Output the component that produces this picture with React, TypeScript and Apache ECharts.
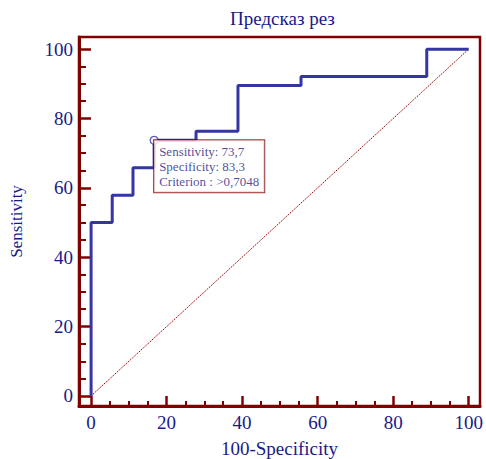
import React, { useEffect, useRef } from "react";
import * as echarts from "echarts";

const fpr = [0, 0, 5.6, 11.1, 16.7, 27.8, 38.9, 55.6, 88.9, 100];
const sens = [0, 50, 57.9, 65.8, 73.7, 76.3, 89.5, 92.1, 100, 100];
const diagX = [0, 100];
const diagY = [0, 100];
const criterionPoint = [16.7, 73.7];
const criterionText = ["Sensitivity: 73,7", "Specificity: 83,3", "Criterion : >0,7048"];
const majorTicks = [0, 20, 40, 60, 80, 100];
const minorTicks = [5, 10, 15, 25, 30, 35, 45, 50, 55, 65, 70, 75, 85, 90, 95];
const title = "Предсказ рез";
const xName = "100-Specificity";
const yName = "Sensitivity";

const RED = "#800000";
const NAVY = "#1a1a88";
const BLUE = "#3535a3";
const FONT = "'Liberation Serif', 'Times New Roman', serif";

export default function App() {
  const ref = useRef<HTMLDivElement>(null);
  useEffect(() => {
    document.body.style.margin = "0";
    const chart = echarts.init(ref.current!, null, { renderer: "svg" });
    const xMin = -3.2, xMax = 103, yMin = -2.9, yMax = 103.5;
    const mkAxis = (isX: boolean) => {
      const min = isX ? xMin : yMin;
      const max = isX ? xMax : yMax;
      return [
        {
          type: "value",
          min,
          max,
          position: isX ? "bottom" : "left",
          axisLine: { show: true, onZero: false, lineStyle: { color: RED, width: 3 } },
          axisTick: {
            show: true,
            inside: true,
            length: isX ? 10 : 12,
            customValues: majorTicks,
            lineStyle: { color: RED, width: 2.5 },
          },
          axisLabel: {
            show: true,
            customValues: majorTicks,
            color: NAVY,
            fontSize: 19,
            fontFamily: FONT,
            margin: isX ? 7 : 6,
          },
          splitLine: { show: false },
          name: isX ? xName : yName,
          nameLocation: "middle",
          nameGap: isX ? 33 : 54,
          nameTextStyle: { color: NAVY, fontSize: isX ? 19 : 17, fontFamily: FONT },
        },
        {
          type: "value",
          min,
          max,
          position: isX ? "bottom" : "left",
          axisLine: { show: false, onZero: false },
          axisTick: {
            show: true,
            inside: true,
            length: isX ? 5 : 7,
            customValues: minorTicks,
            lineStyle: { color: RED, width: 2 },
          },
          axisLabel: { show: false },
          splitLine: { show: false },
        },
      ];
    };
    chart.setOption({
      animation: false,
      backgroundColor: "#ffffff",
      title: {
        text: title,
        left: 225,
        top: 4,
        textStyle: { color: NAVY, fontSize: 19, fontWeight: "normal", fontFamily: FONT },
      },
      grid: {
        left: 79,
        top: 37,
        width: 401,
        height: 369,
        outerBoundsMode: "none",
        containLabel: false,
        show: true,
        borderColor: RED,
        borderWidth: 2.5,
        backgroundColor: "transparent",
      },
      xAxis: mkAxis(true),
      yAxis: mkAxis(false),
      series: [
        {
          type: "line",
          data: diagX.map((x, i) => [x, diagY[i]]),
          symbol: "none",
          lineStyle: { color: "#a00000", width: 1, type: [1.5, 1] },
          silent: true,
          z: 2,
        },
        {
          type: "line",
          step: "end",
          data: fpr.map((x, i) => [x, sens[i]]),
          symbol: "none",
          lineStyle: { color: BLUE, width: 3 },
          z: 3,
        },
        {
          type: "scatter",
          data: [criterionPoint],
          symbol: "circle",
          symbolSize: 8,
          itemStyle: { color: "#ffffff", borderColor: BLUE, borderWidth: 1.3 },
          z: 4,
          label: {
            show: true,
            position: ["50%", "50%"],
            align: "left",
            verticalAlign: "top",
            formatter: criterionText.join("\n"),
            backgroundColor: "#ffffff",
            borderColor: RED,
            borderWidth: 1,
            padding: [4, 5, 3, 5],
            lineHeight: 15,
            fontSize: 13,
            color: NAVY,
            fontFamily: FONT,
          },
        },
      ],
    });
    return () => chart.dispose();
  }, []);
  return <div ref={ref} style={{ width: 486, height: 459 }} />;
}
